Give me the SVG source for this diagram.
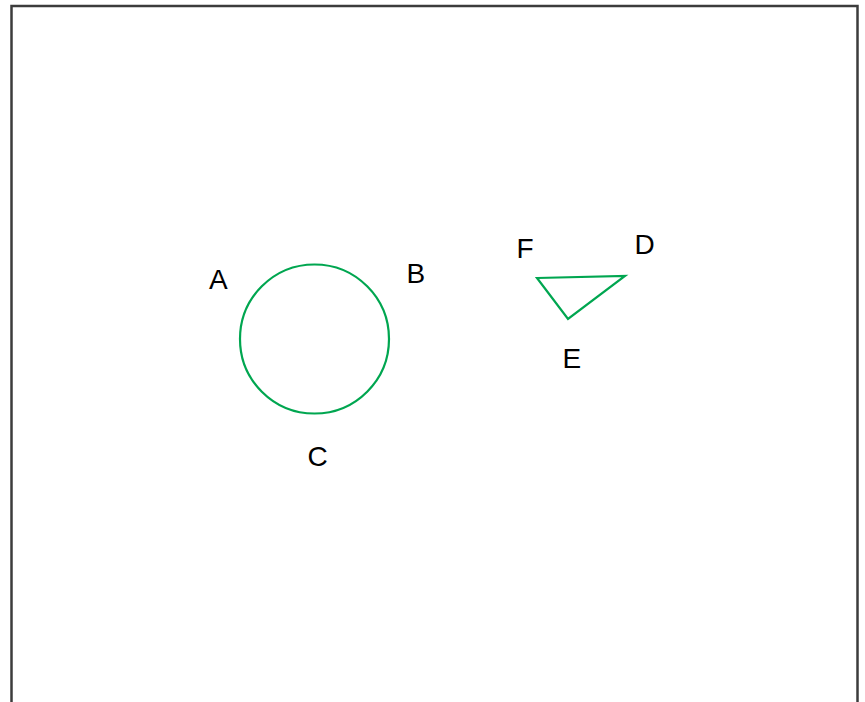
<svg xmlns="http://www.w3.org/2000/svg" width="865" height="702" viewBox="0 0 865 702">
<style>
.shape{fill:none;stroke:#00a650;stroke-width:2.2}
.lbl{font-family:"Liberation Sans",Arial,sans-serif;font-size:28px;fill:#000}
</style>
<rect x="0" y="0" width="865" height="702" fill="#fff"/>
<rect x="11.5" y="6" width="846" height="720" fill="#fff" stroke="#3c3c3c" stroke-width="2.5"/>
<g id="circle"><circle class="shape" cx="314.5" cy="339" r="74.5"/></g>
<g id="triangle"><polygon class="shape" points="537,278 625,276 568,319"/></g>
<g id="labels">
<text class="lbl" x="209" y="289">A</text>
<text class="lbl" x="406.5" y="283">B</text>
<text class="lbl" x="307.5" y="466">C</text>
<text class="lbl" x="634.5" y="254">D</text>
<text class="lbl" x="562.5" y="368">E</text>
<text class="lbl" x="516.5" y="258">F</text>
</g>
<g id="connectors"></g>
</svg>
